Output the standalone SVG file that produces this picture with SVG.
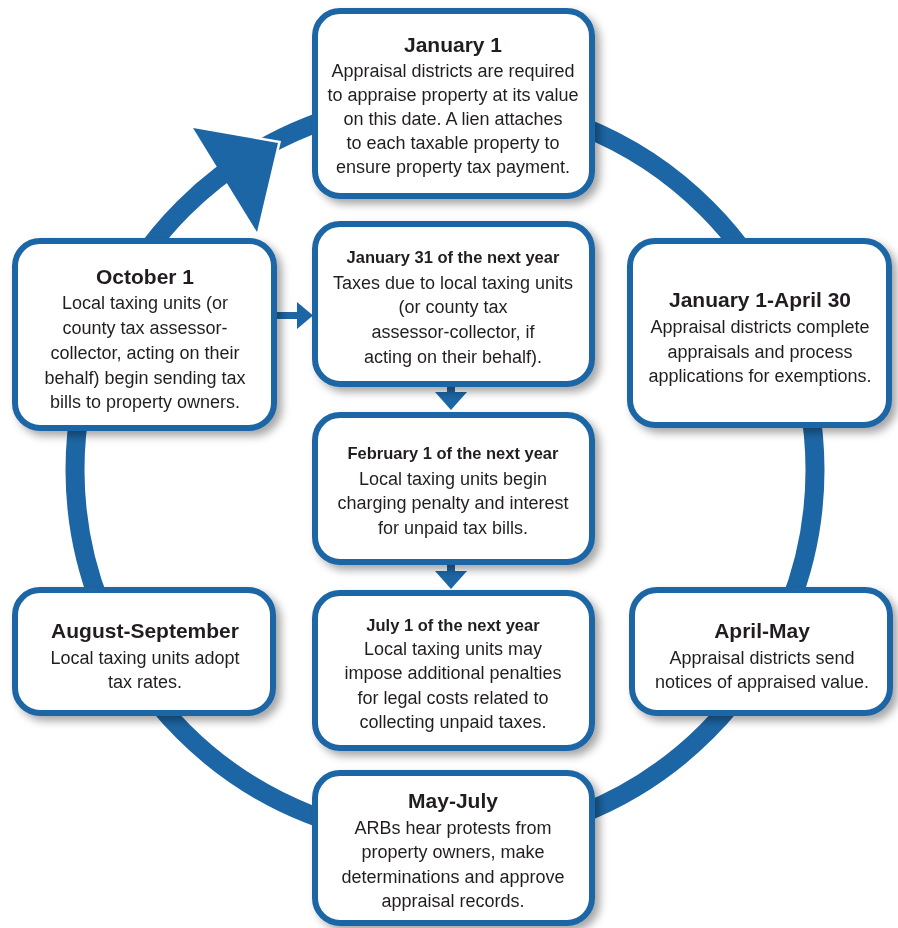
<svg xmlns="http://www.w3.org/2000/svg" width="898" height="928" viewBox="0 0 898 928">
<defs>
<filter id="sh" x="-10%" y="-10%" width="125%" height="125%">
<feDropShadow dx="5" dy="5" stdDeviation="4" flood-color="#000" flood-opacity="0.35"/>
</filter>
<style>
.box{fill:#fff;stroke:#1d66a5;stroke-width:6}
.t{font-family:"Liberation Sans",Arial,sans-serif;font-weight:bold;font-size:21px;fill:#231f20;text-anchor:middle}
.ts{font-family:"Liberation Sans",Arial,sans-serif;font-weight:bold;font-size:16.5px;fill:#231f20;text-anchor:middle}
.b{font-family:"Liberation Sans",Arial,sans-serif;font-size:18px;fill:#231f20;text-anchor:middle}
.blue{fill:#1d66a5}
</style>
</defs>
<rect width="898" height="928" fill="#fff"/>
<g id="connectors">
<circle cx="445" cy="470" r="370" fill="none" stroke="#1d66a5" stroke-width="19"/>
<polyline points="193,128 278,143 257,232" fill="none" stroke="#fff" stroke-width="5" stroke-linejoin="miter"/>
<polygon class="blue" points="193,128 278,143 257,232"/>
<rect class="blue" x="276" y="312" width="22" height="7"/>
<polygon class="blue" points="297,302 313,315.5 297,329"/>
<rect class="blue" x="447" y="384" width="8" height="10"/>
<polygon class="blue" points="435,392 467,392 451,410"/>
<rect class="blue" x="447" y="561" width="8" height="12"/>
<polygon class="blue" points="435,571 467,571 451,589"/>
</g>
<g id="jan1" filter="url(#sh)">
<rect class="box" x="315" y="11" width="277" height="185" rx="25"/>
<text class="t" x="453" y="52">January 1</text>
<text class="b" x="453" y="77">Appraisal districts are required</text>
<text class="b" x="453" y="101">to appraise property at its value</text>
<text class="b" x="453" y="125">on this date. A lien attaches</text>
<text class="b" x="453" y="149">to each taxable property to</text>
<text class="b" x="453" y="173">ensure property tax payment.</text>
</g>
<g id="oct1" filter="url(#sh)">
<rect class="box" x="15" y="241" width="259" height="187" rx="25"/>
<text class="t" x="145" y="284">October 1</text>
<text class="b" x="145" y="309">Local taxing units (or</text>
<text class="b" x="145" y="334">county tax assessor-</text>
<text class="b" x="145" y="359">collector, acting on their</text>
<text class="b" x="145" y="384">behalf) begin sending tax</text>
<text class="b" x="145" y="408">bills to property owners.</text>
</g>
<g id="jan31" filter="url(#sh)">
<rect class="box" x="315" y="224" width="277" height="160" rx="25"/>
<text class="ts" x="453" y="263">January 31 of the next year</text>
<text class="b" x="453" y="289">Taxes due to local taxing units</text>
<text class="b" x="453" y="313">(or county tax</text>
<text class="b" x="453" y="338">assessor-collector, if</text>
<text class="b" x="453" y="363">acting on their behalf).</text>
</g>
<g id="jan1apr30" filter="url(#sh)">
<rect class="box" x="630" y="241" width="259" height="184" rx="25"/>
<text class="t" x="760" y="307">January 1-April 30</text>
<text class="b" x="760" y="333">Appraisal districts complete</text>
<text class="b" x="760" y="358">appraisals and process</text>
<text class="b" x="760" y="382">applications for exemptions.</text>
</g>
<g id="feb1" filter="url(#sh)">
<rect class="box" x="315" y="415" width="277" height="147" rx="25"/>
<text class="ts" x="453" y="459">February 1 of the next year</text>
<text class="b" x="453" y="485">Local taxing units begin</text>
<text class="b" x="453" y="509">charging penalty and interest</text>
<text class="b" x="453" y="534">for unpaid tax bills.</text>
</g>
<g id="augsep" filter="url(#sh)">
<rect class="box" x="15" y="590" width="258" height="123" rx="25"/>
<text class="t" x="145" y="638">August-September</text>
<text class="b" x="145" y="664">Local taxing units adopt</text>
<text class="b" x="145" y="688">tax rates.</text>
</g>
<g id="jul1" filter="url(#sh)">
<rect class="box" x="315" y="593" width="277" height="155" rx="25"/>
<text class="ts" x="453" y="631">July 1 of the next year</text>
<text class="b" x="453" y="655">Local taxing units may</text>
<text class="b" x="453" y="679">impose additional penalties</text>
<text class="b" x="453" y="704">for legal costs related to</text>
<text class="b" x="453" y="728">collecting unpaid taxes.</text>
</g>
<g id="aprmay" filter="url(#sh)">
<rect class="box" x="632" y="590" width="258" height="123" rx="25"/>
<text class="t" x="762" y="638">April-May</text>
<text class="b" x="762" y="664">Appraisal districts send</text>
<text class="b" x="762" y="688">notices of appraised value.</text>
</g>
<g id="mayjul" filter="url(#sh)">
<rect class="box" x="315" y="773" width="277" height="150" rx="25"/>
<text class="t" x="453" y="808">May-July</text>
<text class="b" x="453" y="834">ARBs hear protests from</text>
<text class="b" x="453" y="858">property owners, make</text>
<text class="b" x="453" y="883">determinations and approve</text>
<text class="b" x="453" y="907">appraisal records.</text>
</g>
</svg>
